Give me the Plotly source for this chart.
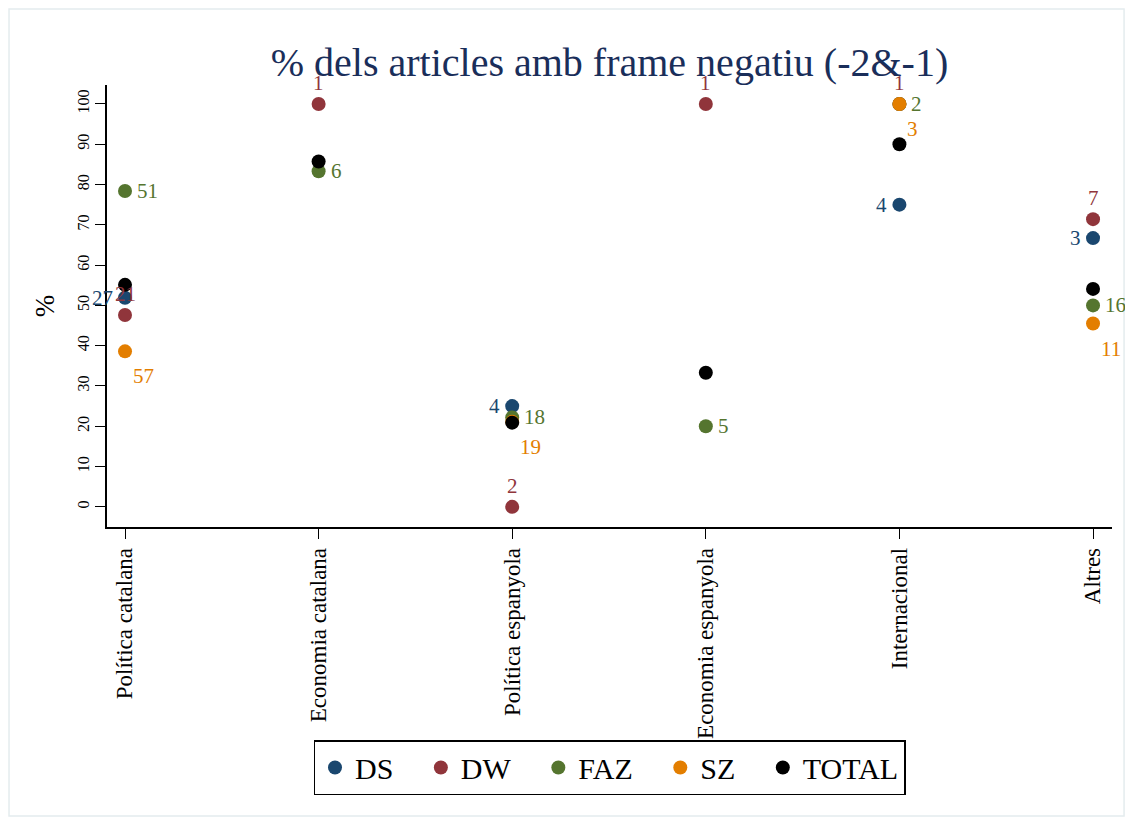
import plotly.graph_objects as go

categories = ["Política catalana", "Economia catalana", "Política espanyola",
              "Economia espanyola", "Internacional", "Altres"]

# % of articles with a negative frame, per newspaper (None = no articles)
ds_pct = [51.9, None, 25.0, None, 75.0, 66.7]
dw_pct = [47.6, 100.0, 0.0, 100.0, 100.0, 71.4]
faz_pct = [78.4, 83.3, 22.2, 20.0, 100.0, 50.0]
sz_pct = [38.6, None, 21.1, None, 100.0, 45.5]
total_pct = [55.1, 85.7, 20.9, 33.3, 90.0, 54.1]

# number of articles (marker labels)
ds_n = [27, None, 4, None, 4, 3]
dw_n = [21, 1, 2, 1, 1, 7]
faz_n = [51, 6, 18, 5, 2, 16]
sz_n = [57, None, 19, None, 3, 11]

serif = "Liberation Serif, Times New Roman, serif"
pad = "\u00a0" * 3

series = [
    ("DS", ds_pct, ds_n, "#1a476f", "left"),
    ("DW", dw_pct, dw_n, "#90353b", "top"),
    ("FAZ", faz_pct, faz_n, "#55752f", "right"),
    ("SZ", sz_pct, sz_n, "#e37e00", "bottomright"),
    ("TOTAL", total_pct, None, "black", None),
]

fig = go.Figure()
annotations = []

for name, pct, n, color, pos in series:
    xs = list(range(len(categories)))
    fig.add_trace(go.Scatter(
        x=xs, y=pct, mode="markers",
        name=name if name == "TOTAL" else name + pad,
        marker=dict(size=14, color=color),
    ))
    if n is None:
        continue
    for i, (v, c) in enumerate(zip(pct, n)):
        if v is None:
            continue
        a = dict(x=i, y=v, xref="x", yref="y", text=str(c), showarrow=False,
                 font=dict(family=serif, size=21, color=color))
        if pos == "left":
            a.update(xanchor="right", yanchor="middle", xshift=-10)
        elif pos == "right":
            a.update(xanchor="left", yanchor="middle", xshift=10)
        elif pos == "top":
            a.update(xanchor="center", yanchor="bottom", yshift=7)
        else:
            a.update(xanchor="left", yanchor="top", xshift=6, yshift=-11)
        annotations.append(a)

fig.update_xaxes(
    range=[-0.093, 5.098],
    tickvals=list(range(len(categories))), ticktext=categories,
    tickangle=-90, ticks="outside", ticklen=10, tickcolor="black",
    showline=True, linecolor="black", linewidth=1.5,
    showgrid=False, zeroline=False,
    tickfont=dict(family=serif, size=23, color="black"),
)
fig.update_yaxes(
    range=[-5, 104.7],
    tickvals=list(range(0, 101, 10)),
    tickangle=-90, ticks="outside", ticklen=10, tickcolor="black",
    showline=True, linecolor="black", linewidth=1.5,
    showgrid=False, zeroline=False,
    tickfont=dict(family=serif, size=16, color="black"),
    title=dict(text="%", font=dict(family=serif, size=27, color="black"), standoff=12),
)

# light outer frame
fig.add_shape(type="rect", xref="paper", yref="paper",
              x0=-0.0975, x1=1.012, y0=-0.654, y1=1.172,
              line=dict(color="#e4ecee", width=1.5), layer="below")

fig.update_layout(
    width=1117, height=809,
    margin=dict(l=99, r=13, t=77, b=290),
    plot_bgcolor="white", paper_bgcolor="white",
    title=dict(text="% dels articles amb frame negatiu (-2&-1)",
               xref="paper", x=0.5, xanchor="center", y=0.933, yanchor="middle",
               font=dict(family=serif, size=40, color="#1a2e5a")),
    legend=dict(orientation="h", x=0.5, xanchor="center", y=-0.482, yanchor="top",
                bordercolor="black", borderwidth=1.5,
                font=dict(family=serif, size=30, color="black"),
                itemsizing="trace"),
    annotations=annotations,
    showlegend=True,
)

fig.write_html("out.html")
